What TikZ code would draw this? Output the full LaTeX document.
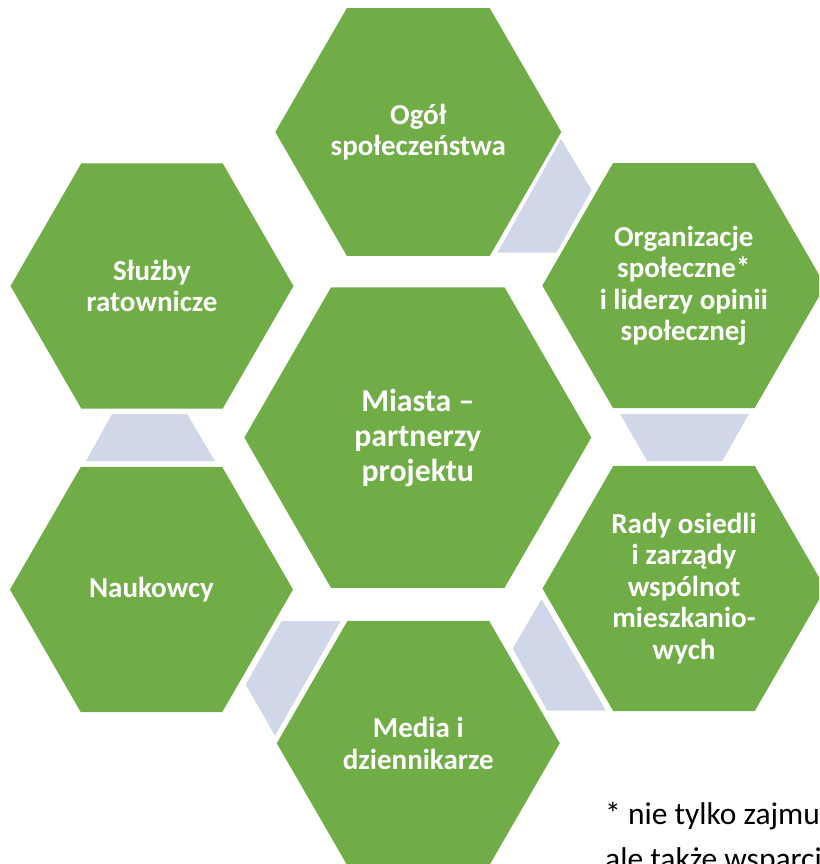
\documentclass[tikz,border=0pt]{standalone}
\usepackage{fontspec}
\setmainfont{Carlito}
\usetikzlibrary{shapes.geometric}
\definecolor{hexgreen}{HTML}{70AD47}
\definecolor{linkblue}{HTML}{D0D7E8}
\begin{document}
\begin{tikzpicture}[x=1pt,y=-1pt,
  hexbig/.style={regular polygon, regular polygon sides=6, fill=hexgreen, inner sep=0pt, outer sep=0pt,
    minimum size=283pt, text=white, align=center, font=\fontsize{29}{31.5}\selectfont\bfseries},
  hexcore/.style={hexbig, minimum size=347pt, font=\fontsize{31.8}{35}\selectfont\bfseries},
  linkshape/.style={fill=linkblue},
  foottext/.style={anchor=base west, inner sep=0pt, font=\fontsize{31.5}{45}\selectfont, text=black}]
\useasboundingbox (0,0) rectangle (819,864);
\clip (0,0) rectangle (819,864);
% connectors
\fill[linkshape] (561,139) -- (591.5,190) -- (556.5,252.5) -- (497.5,252.5) -- cycle;
\fill[linkshape] (620,414) -- (749,414) -- (722.3,461) -- (647.3,461) -- cycle;
\fill[linkshape] (541.7,599) -- (606,710.7) -- (547.3,710.7) -- (512.7,648.5) -- cycle;
\fill[linkshape] (281.5,621) -- (340.7,621) -- (275,735.7) -- (245.7,684.5) -- cycle;
\fill[linkshape] (112,414) -- (187,414) -- (215,461) -- (86,461) -- cycle;
% hexagons
\node[hexcore] (miasta) at (417.8,437.6) {Miasta –\\partnerzy\\projektu};
\node[hexbig] (ogol) at (418.3,132) {Ogół\\społeczeństwa};
\node[hexbig] (org) at (683.8,285.6) {Organizacje\\społeczne*\\i liderzy opinii\\społecznej};
\node[hexbig] (rady) at (684,588.5) {Rady osiedli\\i zarządy\\wspólnot\\mieszkanio-\\wych};
\node[hexbig] (media) at (418.3,743.3) {Media i\\dziennikarze};
\node[hexbig] (nauk) at (151.5,589.5) {Naukowcy};
\node[hexbig] (sluzby) at (152,286) {Służby\\ratownicze};
% footnote
\node[foottext] (foot1) at (605,824.3) {* nie tylko zajmu};
\node[foottext] (foot2) at (605,869.5) {ale także wsparci};
\end{tikzpicture}
\end{document}
